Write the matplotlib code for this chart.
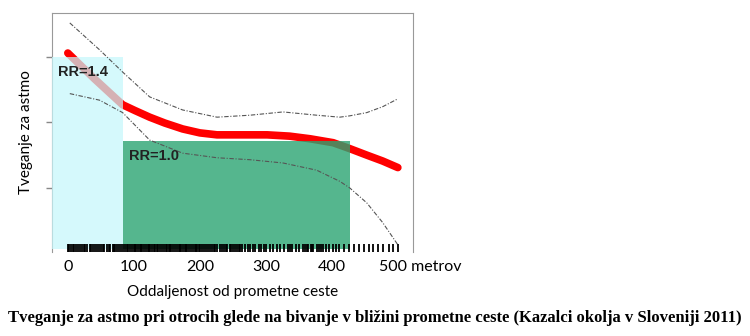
import numpy as np
import matplotlib.pyplot as plt
from matplotlib.transforms import ScaledTranslation

# fitted risk curve (distance in m, relative risk scale)
dist = [0, 41, 83, 102, 124, 147, 174, 200, 226, 261, 302, 336, 367, 402, 427, 453, 477, 500]
risk = [3.06, 2.66, 2.27, 2.18, 2.08, 1.99, 1.90, 1.84, 1.81, 1.81, 1.81, 1.79, 1.75, 1.69, 1.60, 1.50, 1.41, 1.31]

# confidence band
ci_x = [3, 48, 83, 124, 174, 226, 276, 326, 377, 412, 427, 453, 477, 500]
ci_upper = [3.52, 3.11, 2.77, 2.39, 2.19, 2.08, 2.11, 2.16, 2.11, 2.08, 2.10, 2.15, 2.24, 2.36]
ci_lower = [2.44, 2.34, 2.15, 1.73, 1.53, 1.46, 1.43, 1.38, 1.27, 1.10, 1.00, 0.77, 0.47, 0.13]

# RR zones
zone_labels = ['RR=1.4', 'RR=1.0']
zone_start = [-24, 83]
zone_end = [83, 427]
zone_top = [3.0, 1.72]
zone_colors = ['#c6f7fb', '#2aa472']
zone_alpha = [0.72, 0.8]

# observed distances (rug)
rug = [0, 2, 5, 8, 10, 12, 15, 18, 21, 24, 26, 29, 33, 35, 38, 41, 44, 47, 50, 53, 55, 59, 62, 64,
       68, 70, 72, 75, 77, 80, 83, 86, 89, 91, 94, 97, 100, 102, 104, 106, 109, 111, 113, 116, 118,
       121, 123, 125, 128, 130, 132, 135, 137, 140, 143, 145, 148, 151, 153, 155, 157, 160, 163,
       166, 168, 170, 172, 174, 177, 179, 181, 184, 186, 189, 192, 194, 196, 199, 201, 204, 207,
       209, 212, 215, 219, 221, 223, 226, 230, 234, 236, 239, 241, 245, 247, 250, 253, 256, 259,
       261, 264, 268, 273, 276, 281, 284, 289, 293, 297, 300, 306, 311, 317, 322, 327, 333, 336,
       339, 346, 351, 356, 360, 362, 364, 368, 370, 372, 377, 381, 383, 386, 391, 396,
       402, 406, 411, 419, 426, 434, 441, 449, 456, 463, 470, 478, 486, 493, 500]

xticks = [0, 100, 200, 300, 400, 500]
xticklabels = ['0', '100', '200', '300', '400', '500 metrov']

fig = plt.figure(figsize=(7.5, 3.36), dpi=100)
ax = fig.add_axes([0.0693, 0.25, 0.4814, 0.711])

ax.plot(dist, risk, color='#ff0000', lw=5.5, solid_capstyle='round', solid_joinstyle='round', zorder=2)

for s, e, t, c, a in zip(zone_start, zone_end, zone_top, zone_colors, zone_alpha):
    ax.bar(s, t - 0.07, width=e - s, bottom=0.07, align='edge', color=c, alpha=a, lw=0, zorder=3)

for s, t, lab in zip(zone_start, zone_top, zone_labels):
    ax.text(s + 9, t - 0.12, lab, fontsize=10.5, fontweight='bold', va='top', ha='left',
            color='#222222', zorder=6, family='Liberation Sans')

ls = (0, (4, 1.5, 1, 1.5))
ax.plot(ci_x, ci_upper, color='#555555', lw=0.8, ls=ls, zorder=4)
ax.plot(ci_x, ci_lower, color='#555555', lw=0.8, ls=ls, zorder=4)

ax.vlines(rug, 0.0, 0.035, transform=ax.get_xaxis_transform(), color='black', lw=1.3, zorder=5)

ax.set_xlim(-24, 523)
ax.set_ylim(0.02, 3.67)
ax.set_yticks([1, 2, 3])
ax.set_yticklabels([])
ax.tick_params(axis='y', length=4, color='#888888', width=1)
ax.set_xticks(xticks)
ax.set_xticklabels(xticklabels, family='Lato', fontsize=11.5)
ax.tick_params(axis='x', length=0, pad=6)
lbl = ax.get_xticklabels()[-1]
lbl.set_ha('left')
lbl.set_transform(lbl.get_transform() + ScaledTranslation(-0.19, 0, fig.dpi_scale_trans))

for side in ['top', 'right', 'left']:
    ax.spines[side].set_color('#999999')
ax.spines['bottom'].set_visible(False)

ax.set_xlabel('Oddaljenost od prometne ceste', family='Lato', fontsize=11, labelpad=8)
ax.set_ylabel('Tveganje za astmo', family='Lato', fontsize=11, labelpad=6)

fig.text(0.5, 1 - 318 / 336, 'Tveganje za astmo pri otrocih glede na bivanje v bližini prometne ceste '
         '(Kazalci okolja v Sloveniji 2011)', ha='center', va='center', family='Liberation Serif',
         fontweight='bold', fontsize=12)

fig.savefig('out.png', dpi=100)
